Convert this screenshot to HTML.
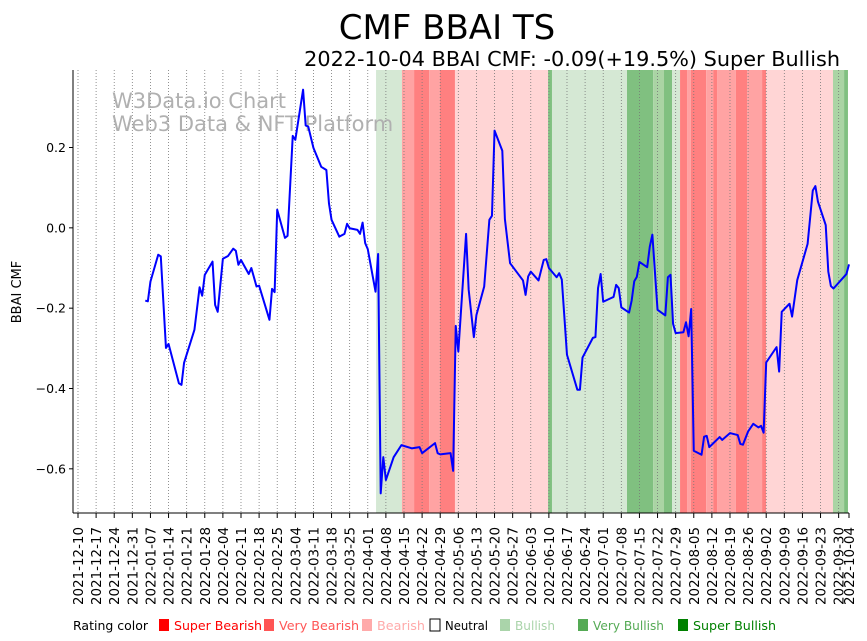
<!DOCTYPE html>
<html><head><meta charset="utf-8"><style>
body{margin:0;background:#fff;}
svg{display:block;font-family:"DejaVu Sans","Liberation Sans",sans-serif;}
</style></head><body>
<svg id="chart" width="867" height="641">
<text x="447" y="39" font-size="34" text-anchor="middle">CMF BBAI TS</text>
<text x="840" y="66" font-size="20.8" text-anchor="end">2022-10-04 BBAI CMF: -0.09(+19.5%) Super Bullish</text>
<g id="bands"></g>
<g id="grid"></g>
<text x="112" y="108" font-size="21" fill="#b0b0b0">W3Data.io Chart</text>
<text x="112" y="131" font-size="21" fill="#b0b0b0">Web3 Data &amp; NFT Platform</text>
<g id="line"></g>
<g id="axes"></g>
<text transform="translate(21,292) rotate(-90)" font-size="13" text-anchor="middle">BBAI CMF</text>
<g id="legend"></g>
</svg>
<script>
const days=[26,27,28,31,32,34,35,39,40,41,45,47,48,49,52,53,54,56,58,60,61,62,63,66,67,69,70,74,75,76,77,80,81,83,84,87,88,89,91,94,96,97,98,101,103,104,105,108,109,110,111,112,115,116,117,118,119,122,123,125,129,132,133,138,139,140,144,145,146,147,150,151,153,154,157,159,160,161,164,165,167,172,173,174,175,178,180,181,182,185,186,187,189,193,194,195,199,200,201,202,203,206,207,208,209,210,213,214,215,216,217,220,221,222,224,227,228,229,230,231,234,235,236,237,238,241,242,243,244,248,249,252,255,256,257,259,261,263,264,265,266,270,271,272,275,276,278,282,284,285,286,289,290,291,292,297,298];
const cmf=[-0.181,-0.183,-0.134,-0.067,-0.071,-0.299,-0.289,-0.387,-0.391,-0.336,-0.254,-0.148,-0.169,-0.117,-0.084,-0.192,-0.209,-0.077,-0.070,-0.052,-0.057,-0.092,-0.080,-0.115,-0.100,-0.146,-0.144,-0.229,-0.152,-0.160,0.045,-0.025,-0.020,0.229,0.219,0.344,0.255,0.252,0.199,0.152,0.144,0.061,0.020,-0.022,-0.015,0.010,-0.001,-0.005,-0.015,0.013,-0.038,-0.053,-0.159,-0.065,-0.661,-0.571,-0.628,-0.571,-0.561,-0.541,-0.549,-0.546,-0.561,-0.536,-0.561,-0.564,-0.561,-0.605,-0.244,-0.308,-0.015,-0.154,-0.272,-0.217,-0.146,0.020,0.030,0.242,0.192,0.022,-0.088,-0.131,-0.167,-0.121,-0.109,-0.131,-0.080,-0.078,-0.100,-0.123,-0.113,-0.129,-0.316,-0.403,-0.403,-0.323,-0.274,-0.272,-0.150,-0.115,-0.184,-0.175,-0.172,-0.142,-0.150,-0.198,-0.211,-0.181,-0.133,-0.122,-0.085,-0.098,-0.047,-0.017,-0.204,-0.218,-0.123,-0.117,-0.239,-0.262,-0.260,-0.235,-0.270,-0.202,-0.555,-0.565,-0.520,-0.518,-0.546,-0.521,-0.528,-0.511,-0.516,-0.538,-0.540,-0.507,-0.488,-0.497,-0.493,-0.510,-0.335,-0.297,-0.358,-0.209,-0.189,-0.221,-0.130,-0.040,0.093,0.104,0.065,0.007,-0.109,-0.145,-0.151,-0.115,-0.091];
const bandStart=[115.2,125.2,129.9,135.7,139.9,145.7,181.7,183.2,212.2,222.3,226.5,229.6,232.7,235.4,236.9,242.8,245.5,247.0,254.3,258.6,264.4,266.0,291.8,296.1];
const bandEnd=[125.2,129.9,135.7,139.9,145.7,181.7,183.2,212.2,222.3,226.5,229.6,232.7,235.4,236.9,242.8,245.5,247.0,254.3,258.6,264.4,266.0,291.8,296.1,297.6];
const bandRating=['B','VBr','SBr','VBr','SBr','Br','VB','B','VB','MB','VB','B','SBr','VBr','SBr','VBr','SBr','VBr','SBr','VBr','SBr','Br','MB','VB'];
const yTicks=[0.2,0.0,-0.2,-0.4,-0.6];
const yTickLabels=['0.2','0.0','\u22120.2','\u22120.4','\u22120.6'];
const startDate=Date.UTC(2021,11,10);
const ns='http://www.w3.org/2000/svg';
const L=73,R=849,T=70,B=513,xMin=-1.93,xMax=298,yMin=-0.71,yMax=0.393;
const xs=d=>L+(d-xMin)/(xMax-xMin)*(R-L);
const ys=v=>B-(v-yMin)/(yMax-yMin)*(B-T);
function mk(tag,attrs,parent){const e=document.createElementNS(ns,tag);for(const k in attrs)e.setAttribute(k,attrs[k]);parent.appendChild(e);return e;}
const bandColors={SBr:'#ff8080',VBr:'#ffa3a3',Br:'#ffd5d5',B:'#d5e8d4',MB:'#aad4a4',VB:'#80c080'};
const gb=document.getElementById('bands');
bandStart.forEach((s,i)=>{const r=mk('rect',{x:xs(s),y:T,width:xs(bandEnd[i])-xs(s),height:B-T,fill:bandColors[bandRating[i]]},gb);

});
const gg=document.getElementById('grid'),ga=document.getElementById('axes');
const tickDays=[];for(let d=0;d<=294;d+=7)tickDays.push(d);tickDays.push(298);
tickDays.forEach(d=>{const x=xs(d);
if(d<298){const gl=mk('line',{x1:x,x2:x,y1:T,y2:B,stroke:'#777','stroke-width':0.8,'stroke-dasharray':'1,2'},gg);

}
mk('line',{x1:x,x2:x,y1:B,y2:B+5,stroke:'#000'},ga);
const dt=new Date(startDate+d*86400000);const lab=dt.toISOString().slice(0,10);
const t=mk('text',{transform:`translate(${x+5},${B+14}) rotate(-90)`,'font-size':13.5,'text-anchor':'end','textLength':78,'lengthAdjust':'spacingAndGlyphs'},ga);t.textContent=lab;

});
yTicks.forEach((v,i)=>{const y=ys(v);mk('line',{x1:L-4,x2:L,y1:y,y2:y,stroke:'#000'},ga);
const t=mk('text',{x:L-7,y:y+4.5,'font-size':12.5,'text-anchor':'end'},ga);t.textContent=yTickLabels[i];

});
mk('line',{x1:L,x2:L,y1:T,y2:B,stroke:'#000','stroke-width':1},ga);
mk('line',{x1:L,x2:R,y1:B,y2:B,stroke:'#000','stroke-width':1},ga);
const pl=mk('polyline',{points:days.map((d,i)=>xs(d)+','+ys(cmf[i])).join(' '),fill:'none',stroke:'#0000ff','stroke-width':2,'stroke-linejoin':'round'},document.getElementById('line'));


const legNames=['Super Bearish','Very Bearish','Bearish','Neutral','Bullish','Very Bullish','Super Bullish'];
const legColors=['#ff0000','#ff5555','#ffaaaa','#ffffff','#aad4aa','#55aa55','#008000'];
const legText=['#ff0000','#ff5555','#ffaaaa','#000000','#aad4aa','#55aa55','#008000'];
const legX=[159,264,362,430,500,578,678];
const legW=[88,80,48,43,40,71,83];
const lg=document.getElementById('legend');
const lt=mk('text',{x:73,y:630,'font-size':12.5},lg);lt.textContent='Rating color';


legNames.forEach((n,i)=>{mk('rect',{x:legX[i],y:619,width:10,height:12,fill:legColors[i],stroke:i==3?'#000':'none'},lg);
const t=mk('text',{x:legX[i]+15,y:630,'font-size':12.5,fill:legText[i],textLength:legW[i],lengthAdjust:'spacingAndGlyphs'},lg);t.textContent=n;

});
</script>
</body></html>
